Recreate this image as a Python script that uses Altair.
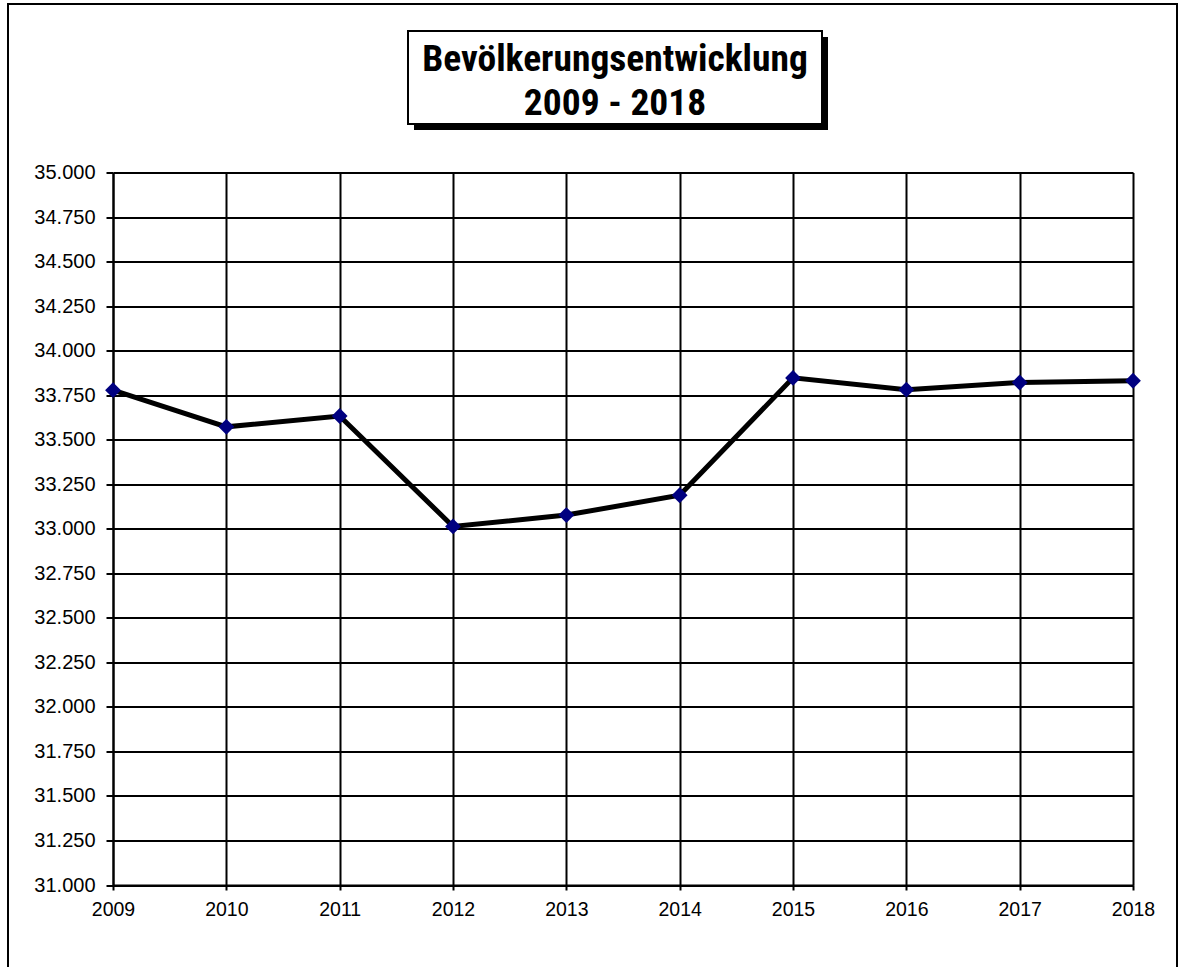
import altair as alt
import pandas as pd

# Einwohnerzahlen 2009-2018
years = ["2009", "2010", "2011", "2012", "2013", "2014", "2015", "2016", "2017", "2018"]
population = [33778, 33572, 33633, 33013, 33077, 33188, 33847, 33781, 33821, 33831]

y_ticks = [31000 + 250 * i for i in range(17)]
title_lines = ["Bevölkerungsentwicklung", "2009 - 2018"]

df = pd.DataFrame({"Jahr": years, "Einwohner": population})
single = alt.Data(values=[{}])  # one row for decorative elements

W, H = 1020, 712.5
PAD_L, PAD_T = 113, 172.5

x_enc = alt.X(
    "Jahr:O",
    scale=alt.Scale(type="point", padding=0),
    axis=alt.Axis(
        title=None, labelAngle=0, labelFontSize=19.5, labelFont="Liberation Sans",
        labelColor="black", labelPadding=10, tickSize=5, tickColor="black",
        tickWidth=2, domainColor="black", domainWidth=2, grid=True,
        gridColor="black", gridWidth=2, gridOpacity=1,
    ),
)
y_enc = alt.Y(
    "Einwohner:Q",
    scale=alt.Scale(domain=[31000, 35000], nice=False, zero=False),
    axis=alt.Axis(
        title=None, values=y_ticks, labelFontSize=20, labelFont="Liberation Sans",
        labelColor="black", labelPadding=11, tickSize=7, tickColor="black",
        tickWidth=2, domainColor="black", domainWidth=2, grid=True,
        gridColor="black", gridWidth=2, gridOpacity=1,
        labelExpr="replace(format(datum.value, ',.0f'), ',', '.')",
    ),
)

base = alt.Chart(df).encode(x=x_enc, y=y_enc)

line = base.mark_line(color="black", strokeWidth=5)
points = base.mark_point(shape="diamond", filled=True, size=250, color="#000080", opacity=1)

# Rahmen um die gesamte Grafik
frame = alt.Chart(single).mark_rect(fillOpacity=0, stroke="black", strokeWidth=2).encode(
    x=alt.value(8 - PAD_L), x2=alt.value(1177 - PAD_L),
    y=alt.value(4 - PAD_T), y2=alt.value(1000 - PAD_T),
)

# Titelkasten mit Schatten
shadow = alt.Chart(single).mark_rect(color="black").encode(
    x=alt.value(414 - PAD_L), x2=alt.value(828 - PAD_L),
    y=alt.value(37 - PAD_T), y2=alt.value(130 - PAD_T),
)
box = alt.Chart(single).mark_rect(fill="white", stroke="black", strokeWidth=2).encode(
    x=alt.value(408 - PAD_L), x2=alt.value(822 - PAD_L),
    y=alt.value(31 - PAD_T), y2=alt.value(124 - PAD_T),
)
title = alt.Chart(single).mark_text(
    text=title_lines, font="Roboto Condensed", fontSize=37.5, fontWeight="bold",
    lineHeight=44, color="black", align="center", baseline="alphabetic",
).encode(x=alt.value(615 - PAD_L), y=alt.value(71 - PAD_T))

chart = (
    alt.layer(frame, shadow, box, title, line, points)
    .properties(
        width=W, height=H,
        autosize=alt.AutoSizeParams(type="none"),
        padding={"left": PAD_L, "top": PAD_T, "right": 1183 - PAD_L - W, "bottom": 967 - PAD_T - H},
        background="white",
    )
    .configure_view(stroke=None)
)

chart.save("out.html", embed_options={"renderer": "svg", "actions": False})
